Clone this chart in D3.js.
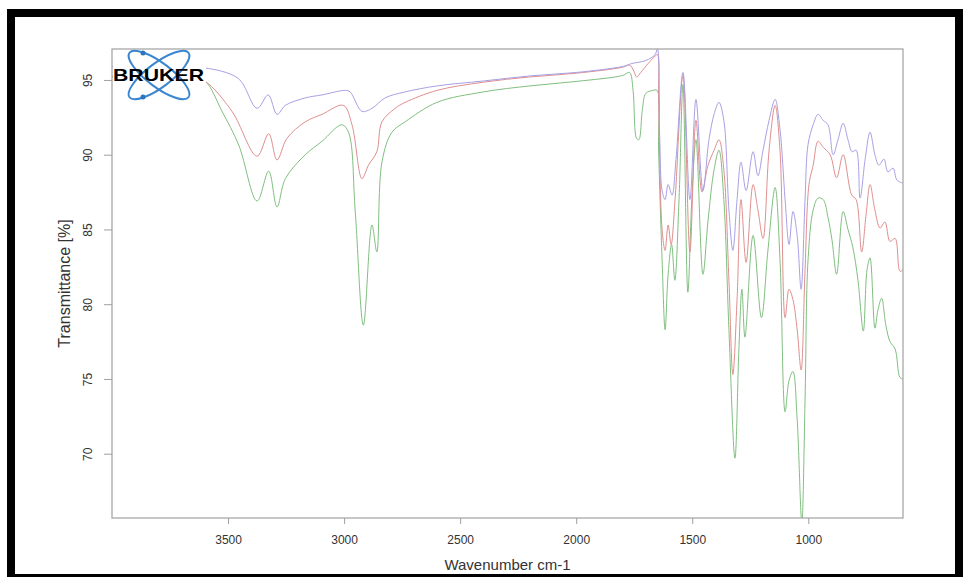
<!DOCTYPE html>
<html>
<head>
<meta charset="utf-8">
<script src="https://cdn.jsdelivr.net/npm/d3@7"></script>
<style>
body { margin: 0; background: #fff; }
svg { display: block; }
text { font-family: "Liberation Sans", Arial, sans-serif; }
</style>
</head>
<body>
<div id="chart"></div>
<script>
// wavenumber (cm-1), transmittance (%)
const spectrumBlue = [
    [4000, 95.9], [3800, 95.9], [3650, 95.8], [3598, 95.8], [3456, 95.1], [3375, 93.1],
    [3327, 94.0], [3289, 92.7], [3253, 93.3], [3167, 93.8], [3095, 94.0], [2995, 94.3],
    [2974, 94.2], [2923, 92.9], [2880, 93.1], [2823, 93.8], [2737, 94.2], [2600, 94.6],
    [2400, 94.93], [2200, 95.27], [2000, 95.5], [1800, 95.9], [1760, 96.1], [1700, 96.3],
    [1660, 96.7], [1650, 97.07], [1640, 91.0], [1630, 87.6], [1617, 87.0], [1604, 88.0],
    [1587, 87.3], [1570, 89.7], [1540, 95.5], [1510, 87.0], [1484, 93.7], [1454, 87.6],
    [1428, 91.0], [1406, 92.7], [1385, 93.5], [1364, 92.3], [1342, 86.3], [1325, 83.6],
    [1307, 87.0], [1290, 89.5], [1268, 87.6], [1238, 90.2], [1217, 88.6], [1195, 90.3],
    [1169, 92.3], [1143, 93.7], [1122, 91.7], [1100, 87.0], [1083, 84.0], [1066, 86.2],
    [1048, 84.6], [1031, 81.0], [1014, 87.0], [1001, 90.7], [979, 92.0], [958, 92.7],
    [936, 92.3], [915, 92.0], [893, 90.0], [872, 91.0], [850, 92.1], [829, 91.0],
    [811, 90.2], [794, 90.3], [777, 87.1], [755, 89.7], [734, 91.5], [713, 90.0],
    [696, 89.3], [674, 89.7], [657, 88.85], [635, 89.1], [618, 88.3], [592, 88.1]
];

const spectrumRed = [
    [4000, 95.2], [3650, 95.1], [3598, 94.9], [3483, 92.9], [3375, 89.9], [3325, 91.4],
    [3289, 89.65], [3246, 91.1], [3167, 92.2], [3095, 92.7], [3003, 93.3], [2966, 92.0],
    [2923, 88.4], [2895, 89.3], [2859, 90.2], [2837, 92.2], [2780, 93.1], [2737, 93.5],
    [2600, 94.3], [2400, 94.85], [2200, 95.2], [2000, 95.45], [1800, 95.85], [1770, 96.0],
    [1752, 95.6], [1740, 95.2], [1722, 95.5], [1690, 96.1], [1660, 96.6], [1650, 96.7],
    [1645, 93.7], [1630, 85.0], [1617, 83.6], [1604, 85.3], [1591, 84.0], [1574, 87.0],
    [1540, 95.3], [1510, 83.5], [1484, 92.3], [1458, 87.5], [1432, 89.3], [1406, 90.3],
    [1385, 91.0], [1364, 89.0], [1342, 81.6], [1325, 75.3], [1307, 80.3], [1290, 87.0],
    [1268, 82.8], [1238, 88.0], [1217, 86.3], [1195, 84.4], [1169, 90.3], [1143, 93.3],
    [1122, 90.3], [1100, 79.1], [1083, 81.0], [1066, 80.3], [1048, 78.3], [1031, 75.6],
    [1014, 82.3], [997, 88.0], [979, 89.3], [958, 90.9], [936, 90.5], [906, 90.0],
    [878, 88.45], [850, 90.0], [813, 87.3], [794, 87.0], [770, 83.5], [751, 86.0],
    [734, 88.0], [713, 86.3], [691, 85.1], [670, 85.5], [648, 84.2], [626, 84.4],
    [605, 82.2], [592, 82.3]
];

const spectrumGreen = [
    [4000, 95.2], [3650, 95.1], [3598, 94.9], [3526, 92.9], [3454, 90.65], [3375, 86.9],
    [3325, 88.9], [3289, 86.5], [3253, 88.4], [3167, 90.0], [3095, 90.9], [3010, 92.0],
    [2981, 91.5], [2952, 86.2], [2917, 78.6], [2880, 85.3], [2859, 83.5], [2837, 89.5],
    [2794, 91.5], [2737, 92.2], [2600, 93.5], [2400, 94.2], [2200, 94.6], [2000, 94.9],
    [1800, 95.3], [1770, 95.5], [1755, 94.3], [1740, 91.1], [1730, 91.0], [1715, 93.0],
    [1700, 94.1], [1670, 94.3], [1652, 94.3], [1645, 90.3], [1630, 83.0], [1617, 78.3],
    [1604, 82.0], [1589, 84.0], [1575, 81.6], [1557, 87.0], [1540, 94.7], [1519, 80.8],
    [1502, 87.0], [1484, 91.0], [1454, 82.0], [1432, 85.6], [1406, 89.0], [1385, 90.3],
    [1364, 87.0], [1342, 78.3], [1316, 69.7], [1299, 77.0], [1286, 81.0], [1273, 77.8],
    [1238, 84.6], [1202, 79.1], [1174, 83.6], [1143, 87.8], [1122, 83.0], [1100, 72.8],
    [1083, 74.9], [1066, 75.5], [1048, 72.3], [1028, 65.4], [1014, 73.6], [1001, 83.0],
    [979, 86.3], [958, 87.1], [936, 87.0], [915, 85.8], [898, 84.3], [878, 82.0],
    [850, 86.2], [829, 85.0], [808, 83.8], [786, 81.6], [763, 78.2], [747, 82.3],
    [734, 83.1], [713, 78.4], [700, 79.6], [684, 80.4], [666, 78.6], [648, 77.5],
    [626, 77.0], [605, 75.1], [592, 75.0]
];

const xTicks = [3500, 3000, 2500, 2000, 1500, 1000];
const yTicks = [70, 75, 80, 85, 90, 95];

const width = 963, height = 577;
const plot = { left: 112, right: 903, top: 49, bottom: 518 };

const svg = d3.select("#chart")
    .append("svg")
    .attr("width", width)
    .attr("height", height);

// black frame
svg.append("rect")
    .attr("x", 7).attr("y", 9)
    .attr("width", width - 7).attr("height", height - 9)
    .attr("fill", "#000");
svg.append("rect")
    .attr("x", 15).attr("y", 17)
    .attr("width", 940).attr("height", 557)
    .attr("fill", "#fff");

const x = d3.scaleLinear()
    .domain([4000, 592])
    .range([plot.left, plot.right]);

const y = d3.scaleLinear()
    .domain([65.7, 97.07])
    .range([plot.bottom, plot.top]);

svg.append("clipPath")
    .attr("id", "plot-clip")
    .append("rect")
    .attr("x", plot.left).attr("y", plot.top)
    .attr("width", plot.right - plot.left)
    .attr("height", plot.bottom - plot.top);

const line = d3.line()
    .x(d => x(d[0]))
    .y(d => y(d[1]))
    .curve(d3.curveCatmullRom.alpha(0.5));

const series = [
    { data: spectrumGreen, color: "#80bf80" },
    { data: spectrumRed, color: "#e08e8e" },
    { data: spectrumBlue, color: "#a8a0e4" }
];

svg.append("g")
    .attr("clip-path", "url(#plot-clip)")
    .selectAll("path")
    .data(series)
    .enter()
    .append("path")
    .attr("d", d => line(d.data))
    .attr("fill", "none")
    .attr("stroke", d => d.color)
    .attr("stroke-width", 1);

// axes
const axisColor = "#a0a0a0";

const xAxis = svg.append("g")
    .attr("transform", `translate(0, ${plot.bottom})`)
    .call(d3.axisBottom(x).tickValues(xTicks).tickSize(6).tickPadding(11).tickFormat(d3.format("d")));

const yAxis = svg.append("g")
    .attr("transform", `translate(${plot.left}, 0)`)
    .call(d3.axisLeft(y).tickValues(yTicks).tickSize(8).tickFormat(d3.format("d")));

[xAxis, yAxis].forEach(g => {
    g.select(".domain").remove();
    g.selectAll(".tick line").attr("stroke", axisColor);
    g.selectAll(".tick text")
        .attr("fill", "#333")
        .style("font-size", "12px")
        .style("font-family", "'Liberation Sans', Arial, sans-serif");
});

yAxis.selectAll(".tick text")
    .attr("x", 0).attr("dy", 0)
    .attr("text-anchor", "middle")
    .attr("transform", "translate(-24, 0) rotate(-90)")
    .attr("dominant-baseline", "central");

// box
svg.append("rect")
    .attr("x", plot.left).attr("y", plot.top)
    .attr("width", plot.right - plot.left)
    .attr("height", plot.bottom - plot.top)
    .attr("fill", "none")
    .attr("stroke", axisColor)
    .attr("stroke-width", 1.2);

// axis titles
svg.append("text")
    .attr("x", (plot.left + plot.right) / 2)
    .attr("y", 570)
    .attr("text-anchor", "middle")
    .attr("fill", "#333")
    .style("font-size", "15px")
    .text("Wavenumber cm-1");

svg.append("text")
    .attr("transform", `translate(70, ${(plot.top + plot.bottom) / 2}) rotate(-90)`)
    .attr("text-anchor", "middle")
    .attr("fill", "#333")
    .style("font-size", "16px")
    .text("Transmittance [%]");

// Bruker logo
const logo = svg.append("g");
logo.append("rect")
    .attr("x", plot.left + 1).attr("y", plot.top + 1)
    .attr("width", 93).attr("height", 52)
    .attr("fill", "#fff");
[-37, 37].forEach(a => {
    logo.append("ellipse")
        .attr("cx", 0).attr("cy", 0)
        .attr("rx", 37).attr("ry", 12)
        .attr("transform", `translate(159, 75) rotate(${a})`)
        .attr("fill", "none")
        .attr("stroke", "#3a86d0")
        .attr("stroke-width", 2);
});
[[143, 53], [143, 97]].forEach(p => {
    logo.append("circle")
        .attr("cx", p[0]).attr("cy", p[1]).attr("r", 2.5)
        .attr("fill", "#2a74c0");
});
logo.append("text")
    .attr("x", 113).attr("y", 81)
    .attr("textLength", 91)
    .attr("lengthAdjust", "spacingAndGlyphs")
    .attr("fill", "#000")
    .style("font-size", "17px")
    .style("font-weight", "900")
    .text("BRUKER");
</script>
</body>
</html>
